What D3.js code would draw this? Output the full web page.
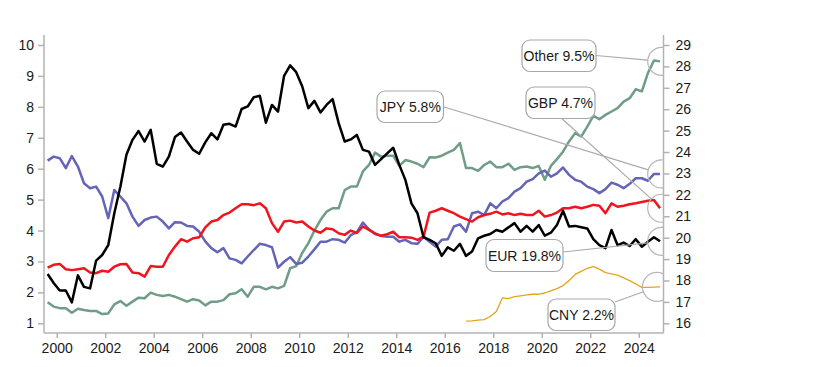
<!DOCTYPE html>
<html><head><meta charset="utf-8">
<script src="https://cdn.jsdelivr.net/npm/d3@7"></script>
<style>
body{margin:0;background:#fff;}
text{font-family:"Liberation Sans",Arial,sans-serif;}
</style></head>
<body><svg id="c" width="823" height="367"></svg>
<script>
// quarterly observations, first quarter = 1999 Q3
const startYear = 1999.625;
const quarterStep = 0.25;
const xTicks = [2000,2002,2004,2006,2008,2010,2012,2014,2016,2018,2020,2022,2024];
const leftTicks = [1,2,3,4,5,6,7,8,9,10];
const rightTicks = [16,17,18,19,20,21,22,23,24,25,26,27,28,29];

// EUR share (right axis, %)
const eur = [
18.30,17.88,
17.53,17.53,16.98,18.24,
17.70,17.63,18.93,19.19,
19.65,21.14,22.38,23.87,
24.57,24.98,24.49,25.04,
23.45,23.32,23.79,24.70,
24.91,24.49,24.10,23.92,
24.45,24.88,24.59,25.27,
25.32,25.19,26.01,26.13,
26.56,26.63,25.37,26.20,
25.89,27.56,28.05,27.73,
27.06,26.05,26.39,25.85,
26.20,26.47,25.35,24.49,
24.59,24.80,24.10,24.02,
23.40,23.67,23.94,24.20,
23.40,22.70,21.60,21.14,
20.02,19.90,19.74,19.15,
19.55,19.39,19.71,19.15,
19.35,19.97,20.09,20.17,
20.36,20.28,20.48,20.68,
20.28,20.55,20.28,20.59,
20.09,20.23,20.59,21.26,
20.52,20.55,20.49,20.43,
19.93,19.65,19.51,20.36,
19.65,19.77,19.61,19.93,
19.58,19.81,20.02,19.83];

// JPY share (left axis, %)
const jpy = [
6.26,6.39,
6.34,6.02,6.41,6.07,
5.53,5.37,5.42,5.10,
4.40,5.31,5.10,4.88,
4.45,4.15,4.34,4.42,
4.45,4.29,4.07,4.27,
4.26,4.15,4.13,3.96,
3.65,3.43,3.30,3.43,
3.10,3.05,2.94,3.16,
3.37,3.57,3.53,3.46,
2.80,2.99,3.14,2.92,
2.96,3.16,3.39,3.64,
3.64,3.72,3.70,3.61,
3.85,3.95,4.26,4.04,
3.89,3.83,3.80,3.80,
3.64,3.70,3.59,3.57,
3.80,3.64,3.48,3.70,
3.72,4.13,4.20,3.96,
4.56,4.61,4.50,4.88,
4.72,4.94,5.05,5.26,
5.37,5.58,5.66,5.85,
5.94,5.74,5.85,6.04,
5.80,5.64,5.58,5.42,
5.34,5.21,5.34,5.55,
5.48,5.37,5.51,5.69,
5.69,5.61,5.83,5.83];

// GBP share (left axis, %)
const gbp = [
2.80,2.89,
2.92,2.75,2.72,2.75,
2.78,2.64,2.62,2.70,
2.67,2.83,2.91,2.92,
2.64,2.62,2.51,2.85,
2.83,2.83,3.21,3.48,
3.72,3.64,3.75,3.78,
4.10,4.29,4.34,4.50,
4.58,4.72,4.85,4.85,
4.82,4.88,4.72,4.24,
3.96,4.29,4.32,4.26,
4.29,4.13,4.00,3.93,
4.07,4.04,3.91,3.86,
4.00,3.92,4.13,4.02,
3.91,3.83,3.88,3.96,
3.78,3.78,3.77,3.70,
3.80,4.58,4.64,4.72,
4.64,4.56,4.45,4.37,
4.29,4.43,4.50,4.54,
4.61,4.52,4.56,4.50,
4.54,4.50,4.50,4.64,
4.45,4.50,4.58,4.72,
4.72,4.77,4.72,4.77,
4.83,4.80,4.56,4.88,
4.77,4.80,4.85,4.88,
4.92,4.96,4.99,4.72];

// Other currencies share (left axis, %)
const other = [
1.68,1.54,
1.49,1.49,1.34,1.47,
1.43,1.40,1.40,1.30,
1.32,1.61,1.72,1.57,
1.70,1.83,1.81,1.99,
1.92,1.88,1.92,1.86,
1.78,1.70,1.78,1.74,
1.58,1.70,1.70,1.75,
1.94,1.97,2.10,1.86,
2.18,2.18,2.10,2.18,
2.13,2.21,2.78,2.85,
3.28,3.59,4.00,4.34,
4.61,4.72,4.72,5.31,
5.42,5.42,5.91,6.12,
6.52,6.39,6.42,6.42,
6.09,6.28,6.23,6.16,
6.05,6.37,6.36,6.42,
6.52,6.61,6.83,6.02,
6.02,5.93,6.12,6.23,
6.05,6.05,6.16,5.96,
6.05,6.07,6.02,6.09,
5.64,6.09,6.31,6.55,
6.88,7.15,7.04,7.36,
7.71,7.60,7.74,7.85,
7.96,8.17,8.28,8.57,
8.50,9.09,9.50,9.47];

// CNY share (left axis, %), first quarter = 2016 Q4
const cnyStart = 2016.875;
const cny = [
1.07,
1.08,1.10,1.12,1.22,
1.38,1.82,1.80,1.86,
1.89,1.92,1.94,1.94,
1.98,2.05,2.12,2.22,
2.38,2.58,2.68,2.78,
2.83,2.75,2.64,2.60,
2.56,2.47,2.38,2.27,
2.16,2.16,2.17,2.18];

const labelNames = ["Other 9.5%","JPY 5.8%","GBP 4.7%","EUR 19.8%","CNY 2.2%"];

const svg = d3.select("#c");
const x = d3.scaleLinear().domain([2000,2024]).range([56.7,638.8]);
const yL = d3.scaleLinear().domain([1,10]).range([323.3,45]);
const yR = d3.scaleLinear().domain([16,29]).range([323.3,45]);
const plotL = 44, plotR = 663.5, plotT = 35, plotB = 333;
const axisColor = "#b3b3b3";
const font = "14px";

// axes
const gx = svg.append("g").attr("transform",`translate(0,${plotB})`)
  .call(d3.axisBottom(x).tickValues(xTicks).tickFormat(d3.format("d")).tickSize(5).tickPadding(5));
const gl = svg.append("g").attr("transform",`translate(${plotL},0)`)
  .call(d3.axisLeft(yL).tickValues(leftTicks).tickSize(6).tickPadding(4));
const gr = svg.append("g").attr("transform",`translate(${plotR},0)`)
  .call(d3.axisRight(yR).tickValues(rightTicks).tickSize(6).tickPadding(6));
[gx,gl,gr].forEach(g=>{
  g.select(".domain").remove();
  g.selectAll(".tick line").attr("stroke",axisColor).attr("stroke-width",1.5);
  g.selectAll(".tick text").attr("fill","#1a1a1a").style("font-size",font)
   .style("font-family","'Liberation Sans',Arial,sans-serif");
});
svg.append("line").attr("x1",plotL).attr("x2",plotL).attr("y1",plotT).attr("y2",plotB)
  .attr("stroke",axisColor).attr("stroke-width",1.5);
svg.append("line").attr("x1",plotR).attr("x2",plotR).attr("y1",plotT).attr("y2",plotB)
  .attr("stroke",axisColor).attr("stroke-width",1.5);
svg.append("line").attr("x1",plotL).attr("x2",plotR).attr("y1",plotB).attr("y2",plotB)
  .attr("stroke",axisColor).attr("stroke-width",1.5);

svg.append("defs").append("clipPath").attr("id","clip")
  .append("rect").attr("x",plotL).attr("y",0).attr("width",plotR-plotL-0.5).attr("height",plotB);

const series = [
  {name:"CNY", data:cny, start:cnyStart, y:yL, color:"#e3a51c", w:1.3},
  {name:"Other", data:other, start:startYear, y:yL, color:"#6f9d86", w:2.5},
  {name:"JPY", data:jpy, start:startYear, y:yL, color:"#6464b9", w:2.5},
  {name:"GBP", data:gbp, start:startYear, y:yL, color:"#f0141e", w:2.5},
  {name:"EUR", data:eur, start:startYear, y:yR, color:"#000000", w:2.5}
];
const pts = s => s.data.map((v,i)=>[x(s.start+i*quarterStep), s.y(v)]);
series.forEach(s=>{
  svg.append("path").datum(pts(s)).attr("fill","none").attr("stroke",s.color)
    .attr("stroke-width",s.w).attr("stroke-linejoin","round")
    .attr("d",d3.line());
});

// callouts
const lastPt = name => { const s = series.find(d=>d.name===name); const p = pts(s); return p[p.length-1]; };
const callouts = [
  {name:"Other", text:labelNames[0], bx:522, by:40, bw:74, bh:31.5, ax:596, ay:55.5, cx:661.7, r:14},
  {name:"JPY", text:labelNames[1], bx:377, by:91, bw:66.5, bh:31.5, ax:443.3, ay:106.7, cx:661.7, r:14},
  {name:"GBP", text:labelNames[2], bx:526, by:87, bw:69, bh:31.5, ax:561.7, ay:118.5, cx:661.7, r:14},
  {name:"EUR", text:labelNames[3], bx:486, by:239.5, bw:77, bh:32, ax:563, ay:252, cx:661.7, r:14},
  {name:"CNY", text:labelNames[4], bx:548, by:299, bw:67, bh:31.5, ax:615, ay:302, cx:657, r:14.5}
];
const cg = svg.append("g");
callouts.forEach(c=>{
  const cy = lastPt(c.name)[1];
  const dx = c.cx - c.ax, dy = cy - c.ay, L = Math.hypot(dx,dy);
  const ex = c.cx - dx/L*c.r, ey = cy - dy/L*c.r;
  cg.append("line").attr("x1",c.ax).attr("y1",c.ay).attr("x2",ex).attr("y2",ey)
    .attr("stroke","#ababab").attr("stroke-width",1.2);
  cg.append("circle").attr("cx",c.cx).attr("cy",cy).attr("r",c.r)
    .attr("fill","none").attr("stroke","#b5b5b5").attr("stroke-width",1.2)
    .attr("clip-path","url(#clip)");
  cg.append("rect").attr("x",c.bx).attr("y",c.by).attr("width",c.bw).attr("height",c.bh)
    .attr("rx",8).attr("fill","#fff").attr("stroke","#a8a8a8").attr("stroke-width",1.2);
  cg.append("text").attr("x",c.bx+c.bw/2).attr("y",c.by+c.bh/2+5).attr("text-anchor","middle")
    .style("font-size",font).attr("fill","#1a1a1a").text(c.text);
});
</script></body></html>
